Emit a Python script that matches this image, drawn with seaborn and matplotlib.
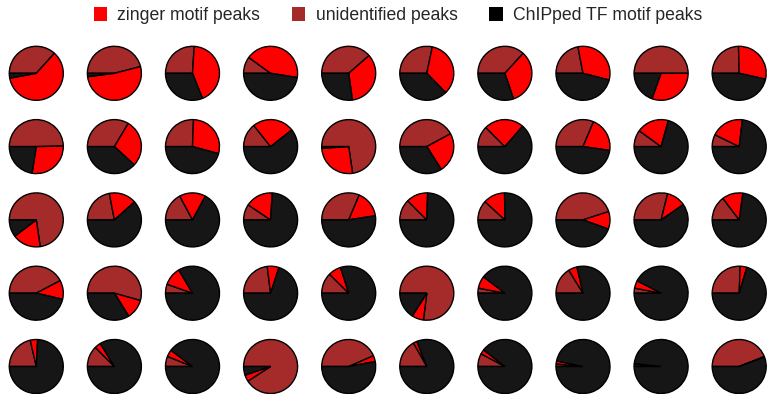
import matplotlib
matplotlib.use("Agg")
import matplotlib.pyplot as plt
from matplotlib.patches import Patch
import seaborn as sns

sns.set_theme(style="white")
plt.rcParams['font.family'] = ['Liberation Sans', 'DejaVu Sans']

labels = ["zinger motif peaks", "unidentified peaks", "ChIPped TF motif peaks"]

# fractions per pie, row-major (5 rows x 10 columns)
unidentified = [
    0.367, 0.46, 0.26, 0.10, 0.386, 0.283, 0.368, 0.22, 0.50, 0.246,
    0.497, 0.336, 0.256, 0.143, 0.727, 0.421, 0.125, 0.314, 0.10, 0.072,
    0.727, 0.22, 0.172, 0.094, 0.314, 0.125, 0.118, 0.45, 0.289, 0.147,
    0.423, 0.544, 0.054, 0.23, 0.124, 0.77, 0.03, 0.162, 0.03, 0.256,
    0.214, 0.125, 0.061, 0.909, 0.435, 0.168, 0.078, 0.015, 0.012, 0.44,
]
zinger = [
    0.604, 0.52, 0.43, 0.425, 0.342, 0.344, 0.33, 0.32, 0.305, 0.289,
    0.278, 0.282, 0.286, 0.251, 0.263, 0.239, 0.239, 0.209, 0.193, 0.197,
    0.17, 0.164, 0.157, 0.166, 0.161, 0.13, 0.13, 0.105, 0.115, 0.125,
    0.113, 0.117, 0.111, 0.07, 0.077, 0.07, 0.074, 0.052, 0.046, 0.04,
    0.044, 0.037, 0.042, 0.039, 0.035, 0.022, 0.027, 0.018, 0.006, 0.003,
]
chipped = [
    0.029, 0.02, 0.31, 0.475, 0.272, 0.373, 0.302, 0.46, 0.195, 0.465,
    0.225, 0.382, 0.458, 0.606, 0.01, 0.34, 0.636, 0.477, 0.707, 0.731,
    0.103, 0.616, 0.671, 0.74, 0.525, 0.745, 0.752, 0.445, 0.596, 0.728,
    0.464, 0.339, 0.835, 0.70, 0.799, 0.16, 0.896, 0.786, 0.924, 0.704,
    0.742, 0.838, 0.897, 0.052, 0.53, 0.81, 0.895, 0.967, 0.982, 0.557,
]

c_red = "#ff0000"
c_brown = "#a52a2a"
c_black = "#161616"

W, H = 767, 394
fig = plt.figure(figsize=(W / 100, H / 100), dpi=100)

nrows, ncols = 5, 10
x0, dx = 36.3, 78.1
y0, dy = 73.3, 73.3
r = 27.0

for i in range(nrows * ncols):
    row, col = divmod(i, ncols)
    cx = x0 + col * dx
    cy = y0 + row * dy
    ax = fig.add_axes([(cx - r) / W, 1 - (cy + r) / H, 2 * r / W, 2 * r / H])
    wedges, _ = ax.pie(
        [unidentified[i], zinger[i], chipped[i]],
        colors=[c_brown, c_red, c_black],
        startangle=180,
        counterclock=False,
        wedgeprops=dict(edgecolor="black", linewidth=1.0),
    )
    for w in wedges:
        w.set_clip_on(False)
    ax.set_xlim(-1, 1)
    ax.set_ylim(-1, 1)
    ax.set_aspect("equal")
    ax.axis("off")

handles = [Patch(facecolor=c_red, edgecolor="none"),
           Patch(facecolor=c_brown, edgecolor="none"),
           Patch(facecolor="black", edgecolor="none")]
fig.legend(handles, labels, loc="center", bbox_to_anchor=(398 / W, 1 - 15.5 / H),
           ncol=3, frameon=False, fontsize=12.7, handlelength=0.75, handleheight=0.8,
           handletextpad=0.6, columnspacing=1.8, borderaxespad=0)

fig.savefig("out.png", dpi=100, facecolor="white")
